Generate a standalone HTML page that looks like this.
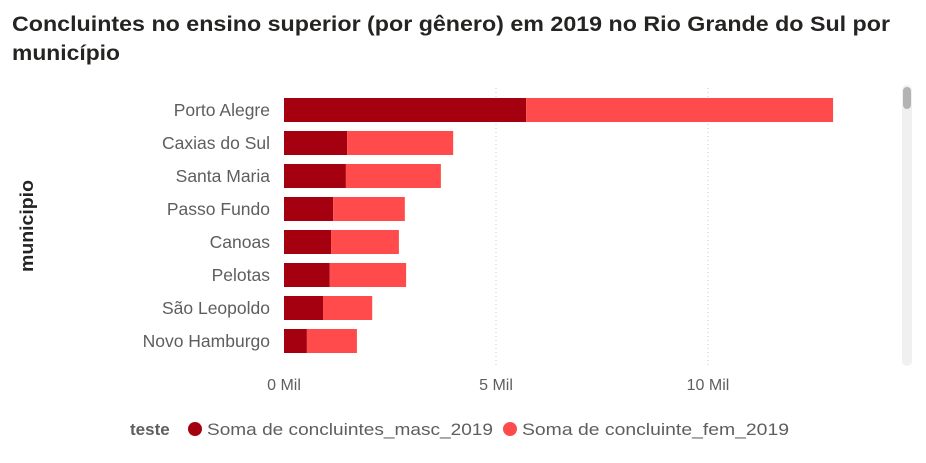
<!DOCTYPE html>
<html><head><meta charset="utf-8"><style>
body{margin:0;background:#fff;width:926px;height:458px;overflow:hidden;font-family:"Liberation Sans",sans-serif;}
</style></head><body>
<svg id="chart" width="926" height="458" xmlns="http://www.w3.org/2000/svg">
<text x="12" y="31" font-size="21" font-weight="bold" fill="#252423" textLength="878" lengthAdjust="spacingAndGlyphs">Concluintes no ensino superior (por gênero) em 2019 no Rio Grande do Sul por</text>
<text x="12" y="60" font-size="21" font-weight="bold" fill="#252423" textLength="108" lengthAdjust="spacingAndGlyphs">município</text>
<text transform="translate(33,226) rotate(-90)" text-anchor="middle" font-size="18" font-weight="bold" fill="#252423" textLength="92" lengthAdjust="spacingAndGlyphs">municipio</text>
<rect x="902" y="85" width="10" height="281" rx="5" fill="#f0f0f0"/>
<rect x="903" y="87" width="8" height="22" rx="4" fill="#b3b3b3"/>
<g id="grid"></g><g id="bars"></g><g id="labels"></g><g id="ticks"></g>
<g>
<text x="130" y="435" font-size="17" font-weight="bold" fill="#605e5c">teste</text>
<circle cx="195" cy="429" r="7" fill="#A50010"/>
<text x="207" y="435" font-size="17" fill="#605e5c" textLength="286" lengthAdjust="spacingAndGlyphs">Soma de concluintes_masc_2019</text>
<circle cx="510" cy="429" r="7" fill="#FF4B4B"/>
<text x="522" y="435" font-size="17" fill="#605e5c" textLength="267" lengthAdjust="spacingAndGlyphs">Soma de concluinte_fem_2019</text>
</g>
</svg>
<script>
const categories=["Porto Alegre","Caxias do Sul","Santa Maria","Passo Fundo","Canoas","Pelotas","São Leopoldo","Novo Hamburgo"];
const mascValues=[5710,1490,1460,1160,1110,1080,920,540];
const femValues=[7240,2500,2240,1690,1600,1800,1160,1180];
const tickValues=[0,5000,10000];
const tickLabels=["0 Mil","5 Mil","10 Mil"];
const NS="http://www.w3.org/2000/svg";
const x=v=>284+v*0.0424;
const y=i=>98+i*33;
const bh=24;
function mk(t,a,p){const e=document.createElementNS(NS,t);for(const k in a)e.setAttribute(k,a[k]);document.getElementById(p).appendChild(e);return e;}
tickValues.forEach((v,i)=>{
 if(v>0){const l=mk('line',{x1:x(v),x2:x(v),y1:88,y2:366,stroke:'#c8c8c8','stroke-dasharray':'1,3'},'grid');
 
 }
 const t=mk('text',{x:x(v),y:390,'text-anchor':'middle','font-size':16,fill:'#605e5c'},'ticks');t.textContent=tickLabels[i];
 
 
});
categories.forEach((c,i)=>{
 const a=mk('rect',{x:x(0),y:y(i),width:x(mascValues[i])-x(0),height:bh,fill:'#A50010'},'bars');
 
 
 const b=mk('rect',{x:x(mascValues[i]),y:y(i),width:x(mascValues[i]+femValues[i])-x(mascValues[i]),height:bh,fill:'#FF4B4B'},'bars');
 
 
 const t=mk('text',{x:270,y:y(i)+bh/2+6,'text-anchor':'end','font-size':17.5,fill:'#605e5c'},'labels');t.textContent=c;
 
 
});
</script>
</body></html>
